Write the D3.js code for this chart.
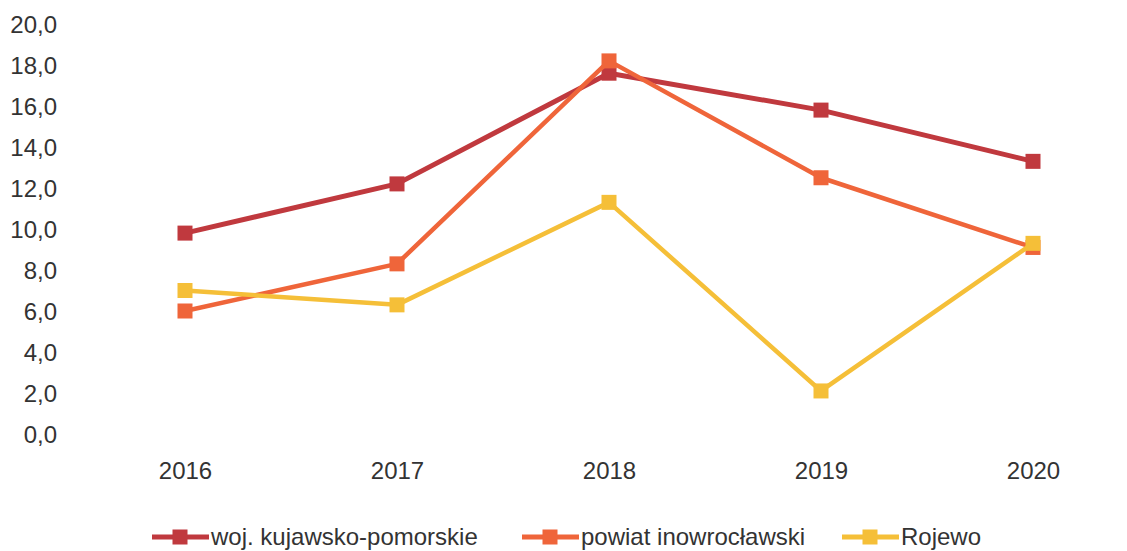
<!DOCTYPE html>
<html><head><meta charset="utf-8">
<script src="https://cdn.jsdelivr.net/npm/d3@7/dist/d3.min.js"></script>
<style>body{margin:0;background:#fff}svg{display:block}text{font-family:"Liberation Sans",Arial,sans-serif;fill:#333}</style>
</head><body><svg id="c" width="1127" height="551"></svg>
<script>
const years = ["2016","2017","2018","2019","2020"];
const woj = [9.8, 12.2, 17.6, 15.8, 13.3];
const powiat = [6.0, 8.3, 18.2, 12.5, 9.1];
const rojewo = [7.0, 6.3, 11.3, 2.1, 9.3];
const seriesNames = ["woj. kujawsko-pomorskie", "powiat inowrocławski", "Rojewo"];
const yTicks = [0,2,4,6,8,10,12,14,16,18,20];

const colors = ["#c0393e", "#ef653a", "#f5bf38"];
const series = [woj, powiat, rojewo];

const svg = d3.select("#c");
const x = d3.scalePoint().domain(years).range([185, 1033]);
const y = d3.scaleLinear().domain([0, 20]).range([434, 24]);
const fmt = v => v.toFixed(1).replace(".", ",");

const yAxis = svg.append("g").attr("transform","translate(57,0)")
  .call(d3.axisLeft(y).tickValues(yTicks).tickFormat(fmt).tickSize(0).tickPadding(0));
yAxis.select(".domain").remove();
yAxis.selectAll("text").style("font-size","24px").attr("dy","0.35em").attr("fill","#333");

const xAxis = svg.append("g").attr("transform","translate(0,461)")
  .call(d3.axisBottom(x).tickSize(0).tickPadding(0));
xAxis.select(".domain").remove();
xAxis.selectAll("text").style("font-size","24px").attr("dy","0.75em").attr("fill","#333");

const line = d3.line().x((d,i)=>x(years[i])).y(d=>y(d));
const ms = 15;
series.forEach((s, k) => {
  const g = svg.append("g");
  g.append("path").attr("d", line(s)).attr("fill","none").attr("stroke",colors[k])
    .attr("stroke-width", k===0?5:4.5).attr("stroke-linejoin","round");
  g.selectAll("rect").data(s).join("rect")
    .attr("x",(d,i)=>x(years[i])-ms/2).attr("y",d=>y(d)-ms/2)
    .attr("width",ms).attr("height",ms).attr("fill",colors[k]);
});

// legend
const legX = [152, 522, 842];
const legY = 537;
seriesNames.forEach((n,k)=>{
  const g = svg.append("g").attr("transform",`translate(${legX[k]},${legY})`);
  g.append("line").attr("x1",0).attr("x2",57).attr("stroke",colors[k]).attr("stroke-width",5);
  g.append("rect").attr("x",28-ms/2).attr("y",-ms/2).attr("width",ms).attr("height",ms).attr("fill",colors[k]);
  g.append("text").attr("x",59).attr("dy","0.35em").style("font-size","24px").text(n);
});
</script></body></html>
